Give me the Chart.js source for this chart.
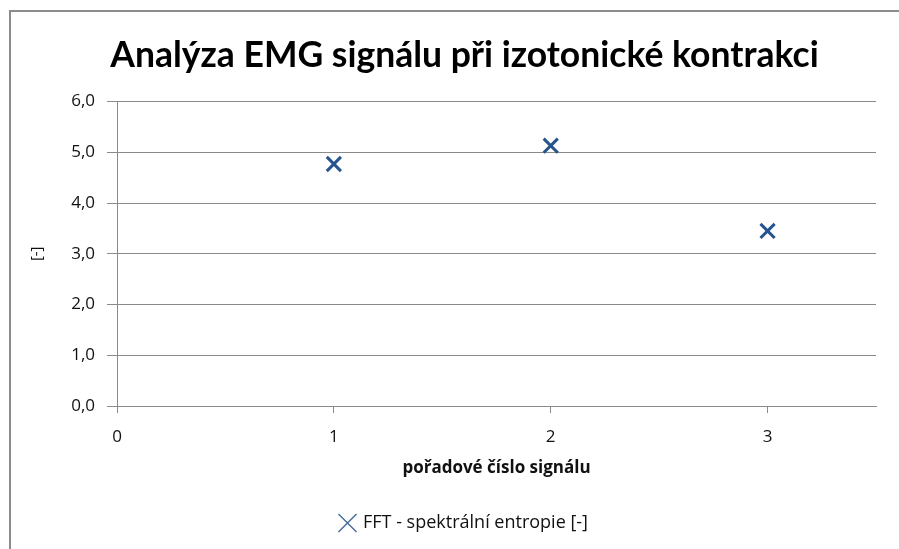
<!DOCTYPE html>
<html>
<head>
<meta charset="utf-8">
<script src="https://cdn.jsdelivr.net/npm/chart.js@4"></script>
<style>
  html, body { margin: 0; padding: 0; background: #fff; }
  #wrap { width: 899px; height: 549px; position: relative; }
</style>
</head>
<body>
<div id="wrap"><canvas id="emgChart" width="899" height="549"></canvas></div>
<script>
// Signal order numbers (x) and spectral entropy values (y)
const signalOrder = [1, 2, 3];
const spectralEntropy = [4.77, 5.13, 3.45];
const seriesLabel = 'FFT - spektrální entropie [-]';
const chartTitle = 'Analýza EMG signálu při izotonické kontrakci';
const xAxisTitle = 'pořadové číslo signálu';
const yAxisTitle = '[-]';

const TITLE_FONT = 'Lato, "Liberation Sans", sans-serif';
const FONT = '"Open Sans", "Noto Sans", sans-serif';
const markerBlue = '#26548e';
const gridGrey = '#8a8a8a';

// Excel-like frame: only top and left edges are visible in the crop
const framePlugin = {
  id: 'frame',
  beforeDraw(chart) {
    const ctx = chart.ctx;
    ctx.save();
    ctx.fillStyle = '#fff';
    ctx.fillRect(0, 0, chart.width, chart.height);
    ctx.strokeStyle = '#8c8c8c';
    ctx.lineWidth = 2;
    ctx.beginPath();
    ctx.moveTo(10, chart.height);
    ctx.lineTo(10, 11);
    ctx.lineTo(chart.width, 11);
    ctx.stroke();
    ctx.restore();
  }
};

const points = signalOrder.map((x, i) => ({ x, y: spectralEntropy[i] }));

new Chart(document.getElementById('emgChart').getContext('2d'), {
  type: 'scatter',
  data: {
    datasets: [{
      label: seriesLabel,
      data: points,
      pointStyle: 'crossRot',
      pointRadius: 10,
      pointBorderWidth: 3,
      borderColor: markerBlue,
      backgroundColor: markerBlue
    }]
  },
  plugins: [framePlugin],
  options: {
    responsive: false,
    animation: false,
    // left padding shifts the title/legend centre to match the original
    layout: { padding: { left: 53, right: 23, top: 0, bottom: 7 } },
    scales: {
      x: {
        type: 'linear',
        min: 0,
        max: 3.5,
        afterFit: (scale) => { scale.height = 98; },
        ticks: {
          stepSize: 1,
          includeBounds: false,
          padding: 14,
          color: '#111',
          font: { family: FONT, size: 17 },
          callback: (v) => v
        },
        grid: {
          drawOnChartArea: false,
          drawTicks: true,
          tickLength: 7,
          color: gridGrey
        },
        border: { display: true, color: gridGrey, width: 1 },
        title: {
          display: true,
          text: xAxisTitle,
          color: '#111',
          font: { family: FONT, size: 17, weight: 'bold' },
          padding: { top: 0, bottom: 26 }
        }
      },
      y: {
        min: 0,
        max: 6,
        afterFit: (scale) => { scale.width = 64; },
        ticks: {
          stepSize: 1,
          padding: 12,
          color: '#111',
          font: { family: FONT, size: 17 },
          callback: (v) => v.toFixed(1).replace('.', ',')
        },
        grid: {
          color: gridGrey,
          tickLength: 10,
          lineWidth: 1
        },
        border: { display: true, color: gridGrey, width: 1 },
        title: {
          display: true,
          text: yAxisTitle,
          color: '#111',
          font: { family: FONT, size: 15 },
          padding: { top: -25, bottom: 0 }
        }
      }
    },
    plugins: {
      title: {
        display: true,
        text: chartTitle,
        color: '#000',
        font: { family: TITLE_FONT, size: 35.5, weight: 'bold' },
        padding: { top: 34, bottom: 25 }
      },
      legend: {
        display: true,
        position: 'bottom',
        labels: {
          usePointStyle: true,
          color: '#111',
          font: { family: FONT, size: 18 },
          padding: 10,
          boxWidth: 13,
          generateLabels: (chart) => {
            const base = Chart.defaults.plugins.legend.labels.generateLabels(chart);
            return base.map((item) => Object.assign(item, { lineWidth: 1.5, strokeStyle: '#4a6f9c' }));
          }
        }
      },
      tooltip: { enabled: false }
    }
  }
});
</script>
</body>
</html>
